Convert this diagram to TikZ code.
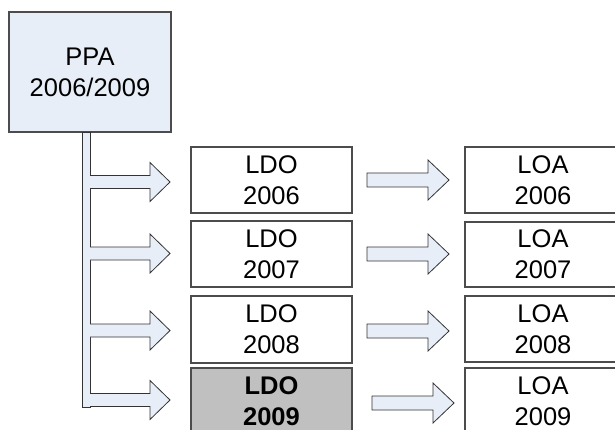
\documentclass[tikz,border=0pt]{standalone}
\usepackage{fontspec}
\setmainfont{Liberation Sans}
\begin{document}
\begin{tikzpicture}[x=1pt,y=-1pt,
  boxline/.style={draw=black!70, line width=1.2pt},
  bluefill/.style={fill=ppablue},
  txt/.style={align=center, font=\fontsize{25.5}{31}\selectfont, inner sep=0pt},
  arrowline/.style={draw=black!80, line width=0.8pt, fill=ppablue, line join=miter},
]
\definecolor{ppablue}{HTML}{E8EEF8}
\definecolor{ldogray}{HTML}{C0C0C0}
\useasboundingbox (0,0) rectangle (615,430);
\clip (0,0) rectangle (615,430);
\fill[white] (0,0) rectangle (615,430);

% PPA box and bar
\draw[boxline, bluefill] (9,12) rectangle (171,132);
\node[txt] (ppa) at (90,72) {PPA\\2006/2009};
\draw[arrowline] (82,132) rectangle (90,407);
\coordinate (bar) at (90,132);

% LDO boxes
\draw[boxline] (191,147) rectangle (352,213);
\node[txt] (ldo6) at (271.5,180) {LDO\\2006};
\draw[boxline] (191,221) rectangle (352,287);
\node[txt] (ldo7) at (271.5,254) {LDO\\2007};
\draw[boxline] (191,296) rectangle (352,363);
\node[txt] (ldo8) at (271.5,329.5) {LDO\\2008};
\draw[boxline, fill=ldogray] (191,368) rectangle (352,436);
\node[txt, font=\fontsize{25.5}{31}\selectfont\bfseries] (ldo9) at (271.5,401) {LDO\\2009};

% LOA boxes
\draw[boxline] (465,147) rectangle (625,213);
\node[txt] (loa6) at (543,180) {LOA\\2006};
\draw[boxline] (465,222) rectangle (625,287);
\node[txt] (loa7) at (543,254.5) {LOA\\2007};
\draw[boxline] (465,296) rectangle (625,362);
\node[txt] (loa8) at (543,329) {LOA\\2008};
\draw[boxline] (465,368) rectangle (625,436);
\node[txt] (loa9) at (543,401) {LOA\\2009};

% left block arrows (bar -> LDO)
\foreach \yc in {182,253.5,330.5,400}{
  \draw[arrowline] (90,\yc-6.5) -- (150,\yc-6.5) -- (150,\yc-19.5) -- (170,\yc)
     -- (150,\yc+19.5) -- (150,\yc+6.5) -- (90,\yc+6.5);
}
% middle block arrows (LDO -> LOA)
\foreach \xa/\yc in {367/180,367/254,367/331,372/403}{
  \draw[arrowline] (\xa,\yc-7) -- (\xa+61,\yc-7) -- (\xa+61,\yc-20) -- (\xa+82,\yc)
     -- (\xa+61,\yc+20) -- (\xa+61,\yc+7) -- (\xa,\yc+7) -- cycle;
}
\end{tikzpicture}
\end{document}
